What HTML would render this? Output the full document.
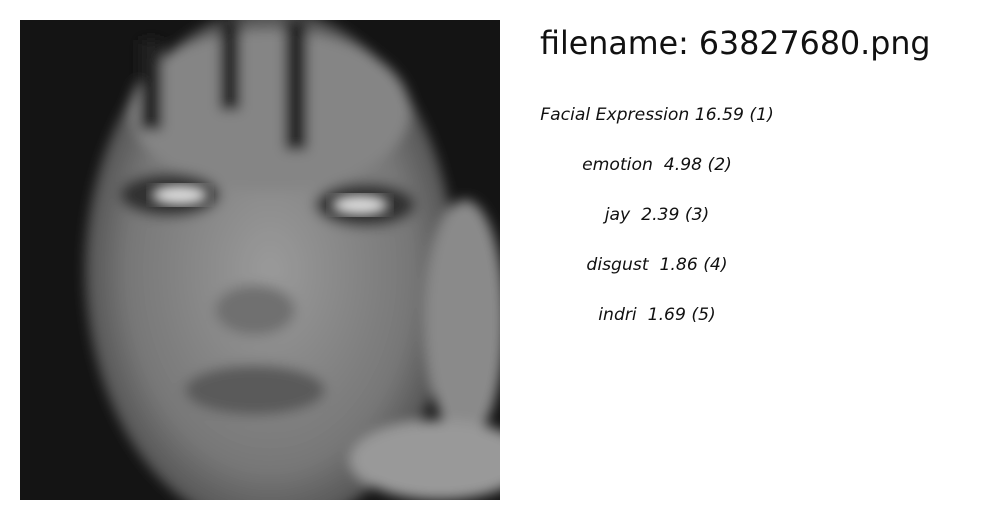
<!DOCTYPE html>
<html><head><meta charset="utf-8"><style>
body{margin:0;width:1000px;height:520px;background:#fff;overflow:hidden;position:relative;font-family:"DejaVu Sans","Liberation Sans",sans-serif}
#photo{position:absolute;left:20px;top:20px;width:480px;height:480px}
#title{position:absolute;left:540px;top:26px;font-size:31.7px;color:#111;white-space:nowrap}
.lbl{position:absolute;width:236px;left:539px;text-align:center;font-style:italic;font-size:17.2px;color:#111;white-space:pre}
</style></head><body>
<svg id="photo" viewBox="0 0 480 480">
<defs>
<radialGradient id="fg" cx="0.5" cy="0.5" r="0.55"><stop offset="0" stop-color="#9a9a9a"/><stop offset="0.7" stop-color="#777"/><stop offset="1" stop-color="#444"/></radialGradient>
<filter id="bl"><feGaussianBlur stdDeviation="6"/></filter>
</defs>
<rect width="480" height="480" fill="#141414"/>
<g filter="url(#bl)">
<ellipse cx="250" cy="250" rx="185" ry="260" fill="url(#fg)"/>
<ellipse cx="250" cy="90" rx="140" ry="80" fill="#858585"/>
<rect x="200" y="0" width="20" height="90" fill="#222"/>
<rect x="265" y="0" width="22" height="130" fill="#222"/>
<rect x="120" y="20" width="22" height="90" fill="#222"/>
<ellipse cx="445" cy="300" rx="40" ry="120" fill="#8a8a8a"/>
<ellipse cx="420" cy="440" rx="90" ry="40" fill="#999"/>
<ellipse cx="150" cy="175" rx="50" ry="22" fill="#333"/>
<ellipse cx="345" cy="185" rx="50" ry="22" fill="#333"/>
<ellipse cx="235" cy="370" rx="70" ry="25" fill="#5a5a5a"/>
<ellipse cx="235" cy="290" rx="40" ry="25" fill="#707070"/>
</g>
<ellipse cx="160" cy="175" rx="28" ry="10" fill="#ddd" filter="url(#bl)"/>
<ellipse cx="340" cy="185" rx="28" ry="10" fill="#ddd" filter="url(#bl)"/>
</svg>
<div id="title">filename: 63827680.png</div>
<div class="lbl" style="top:105px">Facial Expression 16.59 (1)</div>
<div class="lbl" style="top:155px">emotion  4.98 (2)</div>
<div class="lbl" style="top:205px">jay  2.39 (3)</div>
<div class="lbl" style="top:255px">disgust  1.86 (4)</div>
<div class="lbl" style="top:305px">indri  1.69 (5)</div>
</body></html>
